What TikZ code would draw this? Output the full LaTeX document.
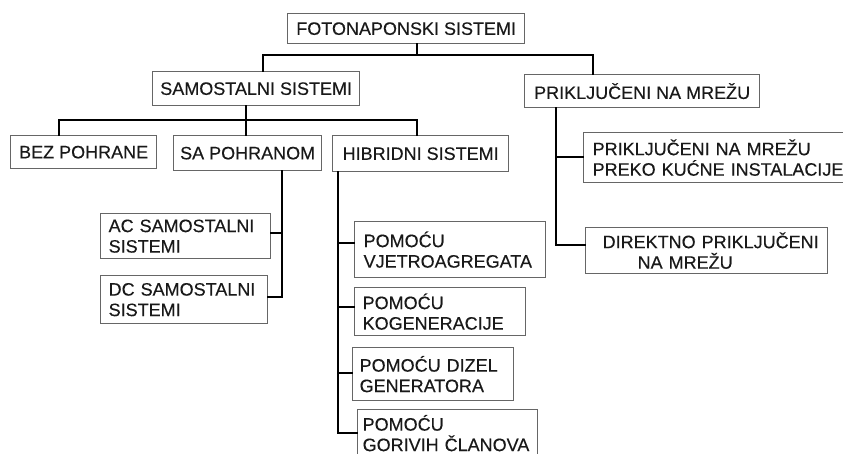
\documentclass[tikz,border=0pt]{standalone}
\usepackage{fontspec}
\setmainfont{Liberation Sans}[FakeBold=0.3]
\hyphenpenalty=10000
\exhyphenpenalty=10000
\begin{document}
\begin{tikzpicture}[x=1pt,y=-1pt,
  box/.style={draw=black!60, line width=1.3pt, rectangle, anchor=north west,
    inner sep=0pt, text=black!90, font=\fontsize{18}{20.5}\selectfont},
  one/.style={box, align=center},
  two/.style={box, align=left, text width=#1},
  conn/.style={draw=black, line width=1.8pt, line cap=rect}]
\useasboundingbox (0,0) rectangle (843,454);
\fill[white] (0,0) rectangle (843,454);

% level 0
\node[one, minimum width=237pt, minimum height=30pt] (fot) at (287,13) {FOTONAPONSKI SISTEMI};
% level 1
\node[one, minimum width=207pt, minimum height=34pt] (sam) at (152,71) {SAMOSTALNI SISTEMI};
\node[one, minimum width=235pt, minimum height=33pt] (pri) at (524,74) {PRIKLJUČENI NA MREŽU};
% level 2
\node[one, minimum width=146pt, minimum height=33pt] (bez) at (10,135) {BEZ POHRANE};
\node[one, minimum width=148pt, minimum height=35pt] (sa) at (173,135) {SA POHRANOM};
\node[one, minimum width=176pt, minimum height=36pt] (hib) at (332,135) {HIBRIDNI SISTEMI};
% samostalni children
\node[two=154pt, minimum width=170pt, minimum height=45pt] (ac) at (100,213) {AC SAMOSTALNI\\SISTEMI};
\node[two=151pt, minimum width=167pt, minimum height=48pt] (dc) at (100,275) {DC SAMOSTALNI\\SISTEMI};
% hibridni children
\node[two=173pt, minimum width=191pt, minimum height=56pt] (vje) at (354,221) {POMOĆU\\VJETROAGREGATA};
\node[two=155pt, minimum width=171pt, minimum height=48pt] (kog) at (354,287) {POMOĆU\\KOGENERACIJE};
\node[two=147pt, minimum width=161pt, minimum height=53pt] (diz) at (352,347) {POMOĆU DIZEL\\GENERATORA};
\node[two=170pt, minimum width=180pt, minimum height=47pt] (gor) at (357,409) {POMOĆU\\GORIVIH ČLANOVA};
% prikljuceni children
\node[two=262pt, minimum width=280pt, minimum height=50pt] (pre) at (583,132) {PRIKLJUČENI NA MREŽU\\PREKO KUĆNE INSTALACIJE};
\node[two=226pt, minimum width=242pt, minimum height=46pt] (dir) at (585,227) {\hspace*{9pt}DIREKTNO PRIKLJUČENI\\\hspace*{44pt}NA MREŽU};

% bus coordinates
\coordinate (c1) at (417,55);
\coordinate (t1) at (263,55);
\coordinate (t2) at (593,55);
\coordinate (s0) at (246,120);
\coordinate (s1) at (59,120);
\coordinate (s3) at (417,120);
\coordinate (a1) at (282,233);
\coordinate (a2) at (282,297);
\coordinate (h1) at (338,243);
\coordinate (h2) at (338,307);
\coordinate (h3) at (338,373);
\coordinate (h4) at (338,433);
\coordinate (p1) at (556,157);
\coordinate (p2) at (556,245);

% connectors
\draw[conn] (fot.south -| c1) -- (c1);
\draw[conn] (sam.north -| t1) -- (t1) -- (t2) -- (pri.north -| t2);
\draw[conn] (sam.south -| s0) -- (s0);
\draw[conn] (bez.north -| s1) -- (s1) -- (s3) -- (hib.north -| s3);
\draw[conn] (sa.north -| s0) -- (s0);
\draw[conn] (sa.south -| a2) -- (a2) -- (dc.east |- a2);
\draw[conn] (a1) -- (ac.east |- a1);
\draw[conn] (hib.south -| h4) -- (h4) -- (gor.west |- h4);
\draw[conn] (h1) -- (vje.west |- h1);
\draw[conn] (h2) -- (kog.west |- h2);
\draw[conn] (h3) -- (diz.west |- h3);
\draw[conn] (pri.south -| p2) -- (p2) -- (dir.west |- p2);
\draw[conn, line width=2.8pt] (p1) -- (pre.west |- p1);
\end{tikzpicture}
\end{document}
